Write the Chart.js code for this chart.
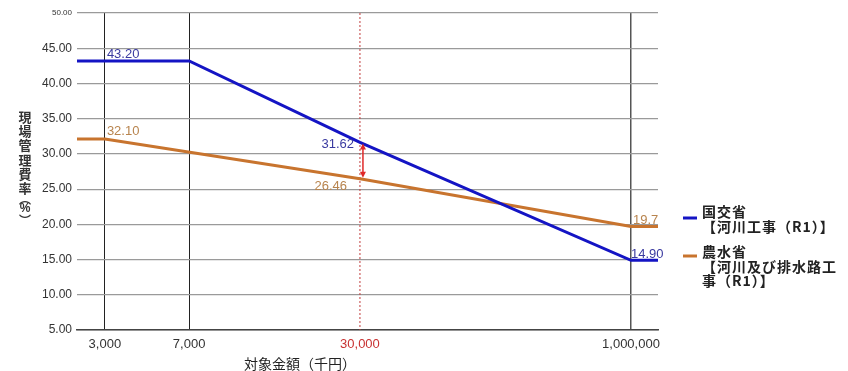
<!DOCTYPE html>
<html>
<head>
<meta charset="utf-8">
<script src="https://cdn.jsdelivr.net/npm/chart.js@4.4.1/dist/chart.umd.min.js"></script>
<style>
  body { margin: 0; background: #fff; }
  #wrap { width: 848px; height: 371px; position: relative; }
</style>
</head>
<body>
<div id="wrap"><canvas id="feeChart"></canvas></div>
<script>
// x axis: amounts (thousand yen)
const amountTicks = [3000, 7000, 30000, 1000000];
const axisMinAmount = 2500;
const axisMaxAmount = 1300000;
const highlightAmount = 30000;

// 国交省 series
const kokkoAmounts = [2500, 7000, 30000, 1000000, 1300000];
const kokkoRates = [43.2, 43.2, 31.62, 14.9, 14.9];
const kokkoLegend = ["国交省", "【河川工事（R1）】"];

// 農水省 series
const nosuiAmounts = [2500, 3000, 30000, 1000000, 1300000];
const nosuiRates = [32.1, 32.1, 26.46, 19.7, 19.7];
const nosuiLegend = ["農水省", "【河川及び排水路工", "事（R1）】"];

// value labels written on the chart
const kokkoLabels = [[3000, 43.2, "43.20"], [30000, 31.62, "31.62"], [1000000, 14.9, "14.90"]];
const nosuiLabels = [[3000, 32.1, "32.10"], [30000, 26.46, "26.46"], [1000000, 19.7, "19.7"]];

const yTitleChars = ["現", "場", "管", "理", "費", "率", "︵", "%", "︶"];
const xTitle = "対象金額（千円）";

// where each tick sits across the plot (the source chart is not evenly logarithmic)
const tickFractions = [0.048, 0.193, 0.487, 0.9535];

const BLUE = "#1414c4";
const ORANGE = "#c8742e";
const NUM_FONT = '"Liberation Sans", Arial, sans-serif';
const JP_FONT = '"Noto Sans CJK JP", "Noto Sans", sans-serif';

class AnchoredScale extends Chart.LinearScale {
  buildTicks() {
    this.start = this.min;
    this.end = this.max;
    return amountTicks.map(v => ({ value: v }));
  }
  toDecimal(value) {
    const vs = [this.min, ...amountTicks, this.max];
    const fs = [0, ...tickFractions, 1];
    const lv = Math.log10(value);
    for (let i = 1; i < vs.length; i++) {
      if (value <= vs[i] || i === vs.length - 1) {
        const a = Math.log10(vs[i - 1]), b = Math.log10(vs[i]);
        return fs[i - 1] + (fs[i] - fs[i - 1]) * (lv - a) / (b - a);
      }
    }
  }
  getPixelForValue(value) {
    if (value === null || value === undefined) return NaN;
    return this.getPixelForDecimal(this.toDecimal(value));
  }
  getValueForPixel(pixel) {
    const d = this.getDecimalForPixel(pixel);
    const vs = [this.min, ...amountTicks, this.max];
    const fs = [0, ...tickFractions, 1];
    for (let i = 1; i < fs.length; i++) {
      if (d <= fs[i] || i === fs.length - 1) {
        const a = Math.log10(vs[i - 1]), b = Math.log10(vs[i]);
        return Math.pow(10, a + (b - a) * (d - fs[i - 1]) / (fs[i] - fs[i - 1]));
      }
    }
  }
}
AnchoredScale.id = "anchored";
AnchoredScale.defaults = Chart.LinearScale.defaults;
Chart.register(AnchoredScale);

function toPoints(xs, ys) {
  return xs.map((x, i) => ({ x: x, y: ys[i] }));
}

const decorPlugin = {
  id: "decor",
  beforeDatasetsDraw(chart) {
    const { ctx, chartArea, scales } = chart;
    const x = scales.x.getPixelForValue(highlightAmount);
    ctx.save();
    ctx.strokeStyle = "#c03c3c";
    ctx.lineWidth = 1;
    ctx.setLineDash([2, 2]);
    ctx.beginPath();
    ctx.moveTo(x, chartArea.top);
    ctx.lineTo(x, chartArea.bottom);
    ctx.stroke();
    ctx.restore();
  },
  afterDatasetsDraw(chart) {
    const { ctx, scales } = chart;
    const sx = scales.x, sy = scales.y;
    ctx.save();
    ctx.font = "13px " + NUM_FONT;
    ctx.textBaseline = "alphabetic";

    // 国交省 labels
    ctx.fillStyle = "#3a3aa0";
    kokkoLabels.forEach(([a, v, t], i) => {
      const px = sx.getPixelForValue(a), py = sy.getPixelForValue(v);
      if (i === 0) { ctx.textAlign = "left"; ctx.fillText(t, px + 2, py - 3); }
      if (i === 1) { ctx.textAlign = "right"; ctx.fillText(t, px - 6, py + 6); }
      if (i === 2) { ctx.textAlign = "left"; ctx.fillText(t, px, py - 2); }
    });
    // 農水省 labels
    ctx.fillStyle = "#b8844e";
    nosuiLabels.forEach(([a, v, t], i) => {
      const px = sx.getPixelForValue(a), py = sy.getPixelForValue(v);
      if (i === 0) { ctx.textAlign = "left"; ctx.fillText(t, px + 2, py - 4); }
      if (i === 1) { ctx.textAlign = "right"; ctx.fillText(t, px - 13, py + 11); }
      if (i === 2) { ctx.textAlign = "left"; ctx.fillText(t, px + 2, py - 2); }
    });

    // red double arrow between the two rates
    const ax = sx.getPixelForValue(highlightAmount) + 3;
    const y1 = sy.getPixelForValue(kokkoLabels[1][1]) + 1;
    const y2 = sy.getPixelForValue(nosuiLabels[1][1]) - 1;
    ctx.strokeStyle = "#e02828";
    ctx.fillStyle = "#e02828";
    ctx.lineWidth = 1.5;
    ctx.beginPath();
    ctx.moveTo(ax, y1 + 4);
    ctx.lineTo(ax, y2 - 4);
    ctx.stroke();
    ctx.beginPath();
    ctx.moveTo(ax, y1); ctx.lineTo(ax - 3, y1 + 6); ctx.lineTo(ax + 3, y1 + 6); ctx.closePath();
    ctx.fill();
    ctx.beginPath();
    ctx.moveTo(ax, y2); ctx.lineTo(ax - 3, y2 - 6); ctx.lineTo(ax + 3, y2 - 6); ctx.closePath();
    ctx.fill();
    ctx.restore();
  },
  afterDraw(chart) {
    const { ctx } = chart;
    ctx.save();
    // y axis title, stacked vertically
    ctx.fillStyle = "#333";
    ctx.textAlign = "center";
    ctx.textBaseline = "middle";
    const steps = [14.2, 14.2, 14.2, 14.2, 14.2, 11, 10, 11, 0];
    let cy = 117;
    yTitleChars.forEach((ch, i) => {
      if (ch === "%") ctx.font = "bold 12px " + NUM_FONT;
      else if (ch === "︵" || ch === "︶") ctx.font = "bold 12px " + JP_FONT;
      else ctx.font = "bold 13px " + JP_FONT;
      ctx.fillText(ch, 25, cy);
      cy += steps[i];
    });
    // x axis title
    ctx.fillStyle = "#222";
    ctx.font = "14px " + JP_FONT;
    ctx.fillText(xTitle, 300, 364);

    // legend
    const groups = [
      { color: BLUE, lines: kokkoLegend, top: 212, dash: 218 },
      { color: ORANGE, lines: nosuiLegend, top: 252, dash: 256 }
    ];
    ctx.textAlign = "left";
    ctx.letterSpacing = "1px";
    groups.forEach(g => {
      ctx.strokeStyle = g.color;
      ctx.lineWidth = 3;
      ctx.beginPath();
      ctx.moveTo(683, g.dash);
      ctx.lineTo(697, g.dash);
      ctx.stroke();
      ctx.fillStyle = "#222";
      ctx.font = "bold 14px " + JP_FONT;
      g.lines.forEach((t, i) => ctx.fillText(t, 702, g.top + i * 14.5));
    });
    ctx.restore();
  }
};

const ctx = document.getElementById("feeChart").getContext("2d");
new Chart(ctx, {
  type: "line",
  data: {
    datasets: [
      {
        label: kokkoLegend.join(""),
        data: toPoints(kokkoAmounts, kokkoRates),
        borderColor: BLUE,
        borderWidth: 3,
        pointRadius: 0,
        tension: 0,
        fill: false
      },
      {
        label: nosuiLegend.join(""),
        data: toPoints(nosuiAmounts, nosuiRates),
        borderColor: ORANGE,
        borderWidth: 3,
        pointRadius: 0,
        tension: 0,
        fill: false
      }
    ]
  },
  options: {
    responsive: true,
    maintainAspectRatio: false,
    animation: false,
    layout: { padding: { left: 0, right: 190, top: 13, bottom: 0 } },
    plugins: {
      legend: { display: false },
      tooltip: { enabled: false }
    },
    scales: {
      x: {
        type: "anchored",
        min: axisMinAmount,
        max: axisMaxAmount,
        afterFit: (scale) => { scale.height = 41; },
        border: { display: true, color: "#444", width: 1.5 },
        grid: {
          drawTicks: false,
          color: (c) => {
            if (!c.tick) return "#333";
            if (c.tick.value === highlightAmount) return "rgba(0,0,0,0)";
            if (c.tick.value === 1000000) return "#555";
            return "#222";
          },
          lineWidth: (c) => (c.tick && c.tick.value === 1000000) ? 1.5 : 1
        },
        ticks: {
          autoSkip: false,
          maxRotation: 0,
          padding: 7,
          font: { family: NUM_FONT, size: 13 },
          color: (c) => (c.tick && c.tick.value === highlightAmount) ? "#c83232" : "#333",
          callback: (v) => Number(v).toLocaleString("en-US")
        }
      },
      y: {
        min: 5,
        max: 50,
        afterFit: (scale) => { scale.width = 77; },
        border: { display: false },
        grid: { drawTicks: false, color: "#9a9a9a", lineWidth: 1.2 },
        ticks: {
          stepSize: 5,
          padding: 5,
          color: "#333",
          font: (c) => ({ family: NUM_FONT, size: (c.tick && c.tick.value === 50) ? 8 : 12 }),
          callback: (v) => Number(v).toFixed(2)
        }
      }
    }
  },
  plugins: [decorPlugin]
});
</script>
</body>
</html>
